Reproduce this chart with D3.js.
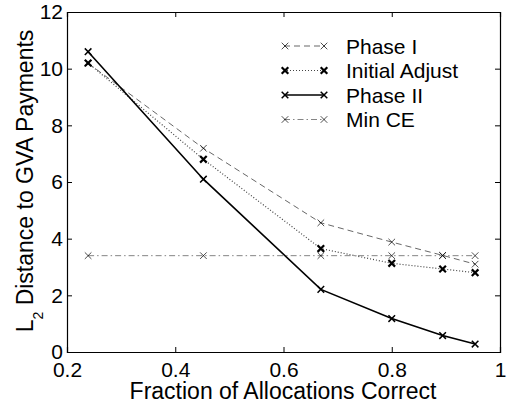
<!DOCTYPE html>
<html>
<head>
<meta charset="utf-8">
<script src="https://cdn.jsdelivr.net/npm/d3@7"></script>
<style>
  body { margin: 0; background: #fff; }
  text { font-family: "Liberation Sans", Arial, sans-serif; fill: #000; }
</style>
</head>
<body>
<svg id="chart" width="508" height="407"></svg>
<script>
// data
const fraction = [0.239, 0.452, 0.669, 0.80, 0.894, 0.954]
const phaseI = [10.19, 7.19, 4.56, 3.88, 3.41, 3.1]
const initialAdjust = [10.2, 6.8, 3.65, 3.13, 2.93, 2.8]
const phaseII = [10.6, 6.1, 2.21, 1.18, 0.58, 0.28]
const minCE = [3.4, 3.4, 3.4, 3.4, 3.4, 3.4]
const xTicks = [0.2, 0.4, 0.6, 0.8, 1]
const yTicks = [0, 2, 4, 6, 8, 10, 12]

const series = [
  { name: "Phase I", values: phaseI, dash: "6,4", width: 0.6, color: "#000", mw: 0.7 },
  { name: "Initial Adjust", values: initialAdjust, dash: "1,2", width: 1.2, color: "#444", mw: 2.2 },
  { name: "Phase II", values: phaseII, dash: null, width: 1.6, color: "#000", mw: 1.5 },
  { name: "Min CE", values: minCE, dash: "6,3,1.5,3", width: 0.6, color: "#333", mw: 0.7 }
]

const svg = d3.select("#chart")
const plotLeft = 67, plotRight = 500, plotTop = 12, plotBottom = 352

const x = d3.scaleLinear().domain([0.2, 1]).range([plotLeft, plotRight])
const y = d3.scaleLinear().domain([0, 12]).range([plotBottom, plotTop])

const tickFont = "21px"
const tickLen = 5

// axes, inward ticks on all four sides
svg.append("g").attr("transform", `translate(0,${plotBottom})`)
  .call(d3.axisBottom(x).tickValues(xTicks).tickSize(-tickLen).tickFormat(d3.format("")).tickPadding(10))
svg.append("g").attr("transform", `translate(0,${plotTop})`)
  .call(d3.axisTop(x).tickValues(xTicks).tickSize(-tickLen).tickFormat(""))
svg.append("g").attr("transform", `translate(${plotLeft},0)`)
  .call(d3.axisLeft(y).tickValues(yTicks).tickSize(-tickLen).tickPadding(4))
svg.append("g").attr("transform", `translate(${plotRight},0)`)
  .call(d3.axisRight(y).tickValues(yTicks).tickSize(-tickLen).tickFormat(""))

svg.selectAll(".domain").attr("stroke", "#000").attr("stroke-width", 1.2)
svg.selectAll(".tick line").attr("stroke", "#000").attr("stroke-width", 1)
svg.selectAll(".tick text")
  .style("font-size", tickFont)
  .style("font-family", "Liberation Sans, Arial, sans-serif")
  .attr("fill", "#000")

// axis titles
svg.append("text")
  .attr("x", 283).attr("y", 399)
  .attr("text-anchor", "middle")
  .style("font-size", "23px")
  .text("Fraction of Allocations Correct")

const yt = svg.append("text")
  .attr("transform", "translate(33,181) rotate(-90)")
  .attr("text-anchor", "middle")
  .style("font-size", "23px")
yt.append("tspan").text("L")
yt.append("tspan").attr("dy", 10).style("font-size", "14px").text("2")
yt.append("tspan").attr("dy", -10).text(" Distance to GVA Payments")

function drawX(g, cx, cy, w, color) {
  const s = 3.3
  g.append("path")
    .attr("d", `M${cx - s},${cy - s}L${cx + s},${cy + s}M${cx - s},${cy + s}L${cx + s},${cy - s}`)
    .attr("stroke", color).attr("stroke-width", w).attr("fill", "none")
}

const line = d3.line().x(d => x(d[0])).y(d => y(d[1]))

series.forEach(s => {
  const pts = fraction.map((f, i) => [f, s.values[i]])
  const g = svg.append("g")
  g.append("path")
    .attr("d", line(pts))
    .attr("fill", "none")
    .attr("stroke", s.color)
    .attr("stroke-width", s.width)
    .attr("stroke-dasharray", s.dash)
  pts.forEach(p => drawX(g, x(p[0]), y(p[1]), s.mw, "#000"))
})

// legend, no box
series.forEach((s, i) => {
  const ly = 46 + i * 24.5
  const g = svg.append("g")
  g.append("line")
    .attr("x1", 284).attr("x2", 325).attr("y1", ly).attr("y2", ly)
    .attr("stroke", s.color).attr("stroke-width", s.width)
    .attr("stroke-dasharray", s.dash)
  drawX(g, 285, ly, s.mw, "#000")
  drawX(g, 324, ly, s.mw, "#000")
  g.append("text")
    .attr("x", 346).attr("y", ly + 7.5)
    .style("font-size", "21px")
    .text(s.name)
})
</script>
</body>
</html>
